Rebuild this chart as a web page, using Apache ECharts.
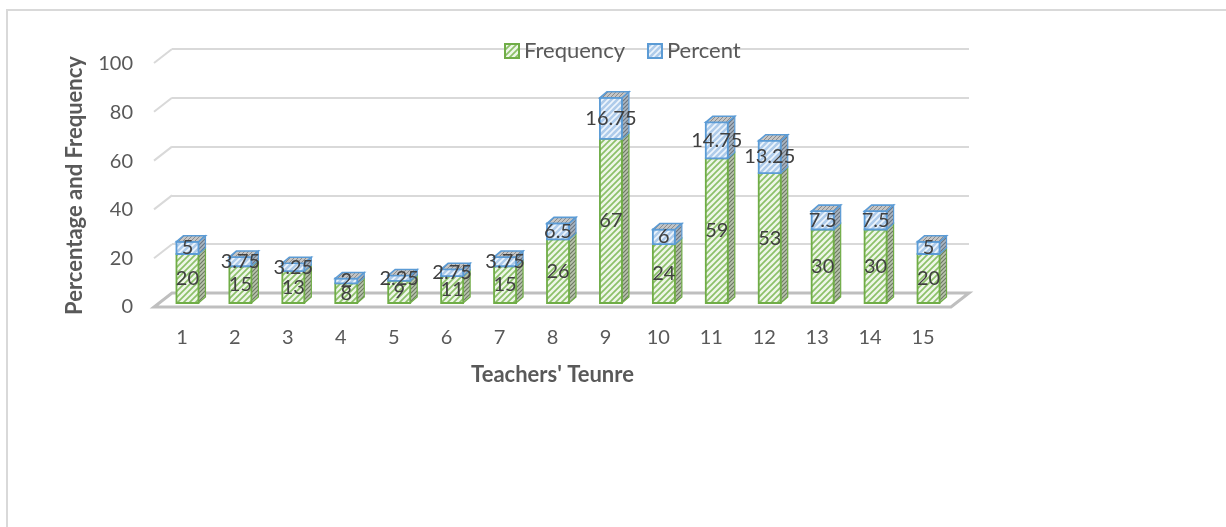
<!DOCTYPE html>
<html><head><meta charset="utf-8">
<script src="https://cdn.jsdelivr.net/npm/echarts@6/dist/echarts.min.js"></script>
<style>html,body{margin:0;padding:0;background:#fff}#chart{width:1226px;height:527px}</style>
</head><body><div id="chart"></div>
<script>
const categories = ['1','2','3','4','5','6','7','8','9','10','11','12','13','14','15'];
const frequency = [20, 15, 13, 8, 9, 11, 15, 26, 67, 24, 59, 53, 30, 30, 20];
const percent = [5, 3.75, 3.25, 2, 2.25, 2.75, 3.75, 6.5, 16.75, 6, 14.75, 13.25, 7.5, 7.5, 5];
const yTicks = [0, 20, 40, 60, 80, 100];

const FONT = 'Lato, "Open Sans", sans-serif';
const TXT = '#595959';

function hatch(bg, fg, lw, step, dash) {
  const c = document.createElement('canvas');
  c.width = step; c.height = step;
  const g = c.getContext('2d');
  g.fillStyle = bg; g.fillRect(0, 0, step, step);
  g.strokeStyle = fg; g.lineWidth = lw;
  if (dash) g.setLineDash(dash);
  g.beginPath();
  g.moveTo(-1, step + 1); g.lineTo(step + 1, -1);
  g.moveTo(-2, 2); g.lineTo(2, -2);
  g.moveTo(step - 2, step + 2); g.lineTo(step + 2, step - 2);
  g.stroke();
  return { image: c, repeat: 'repeat' };
}

const greenFront = hatch('#eef6e8', '#8cc069', 1.7, 6);
const greenSide = hatch('#b9c4ae', '#6e7a64', 1.2, 4);
const blueFront = hatch('#aecbea', '#eef5fc', 1.6, 6);
const blueSide = hatch('#aab6c2', '#6c7682', 1.2, 4);
const topFace = hatch('#c4c4c4', '#8c8c8c', 1, 4);
const GREEN = '#70ad47', BLUE = '#5b9bd5';

const OFFX = 5.5, HW = 11, DX = 7, DY = 6;

function barItem(kind) {
  return function (params, api) {
    const i = api.value(0);
    let base, top;
    if (kind === 'f') { base = 0; top = api.value(1); }
    else { base = api.value(1); top = api.value(1) + api.value(2); }
    const c0 = api.coord([i, base]);
    const c1 = api.coord([i, top]);
    const cx = c0[0] + OFFX;
    const xl = cx - HW, xr = cx + HW;
    const yb = c0[1], yt = c1[1];
    const edge = kind === 'f' ? GREEN : BLUE;
    const children = [
      { type: 'polygon', shape: { points: [[xr, yb], [xr + DX, yb - DY], [xr + DX, yt - DY], [xr, yt]] },
        style: { fill: kind === 'f' ? greenSide : blueSide, stroke: edge, lineWidth: 1.2 } },
      { type: 'rect', shape: { x: xl, y: yt, width: xr - xl, height: yb - yt },
        style: { fill: kind === 'f' ? greenFront : blueFront, stroke: edge, lineWidth: 1.8 } }
    ];
    if (kind === 'p') {
      children.push({ type: 'polygon', shape: { points: [[xl, yt], [xr, yt], [xr + DX, yt - DY], [xl + DX, yt - DY]] },
        style: { fill: topFace, stroke: edge, lineWidth: 1.6 } });
    }
    return { type: 'group', children };
  };
}

function labelItem(params, api) {
  const i = api.value(0), f = api.value(1), p = api.value(2);
  const c0 = api.coord([i, 0]), c1 = api.coord([i, f]), c2 = api.coord([i, f + p]);
  const cx = c0[0] + OFFX;
  const st = { fill: '#404040', fontSize: 20, fontFamily: FONT, align: 'center', verticalAlign: 'middle' };
  return { type: 'group', children: [
    { type: 'text', x: cx, y: (c0[1] + c1[1]) / 2, style: Object.assign({ text: String(f) }, st) },
    { type: 'text', x: cx, y: (c1[1] + c2[1]) / 2, style: Object.assign({ text: String(p) }, st) }
  ] };
}

function wallItem(params, api) {
  const v = api.value(1);
  const cs = params.coordSys;
  const y = api.coord([0, v])[1];
  const x0 = cs.x, w = cs.width;
  if (v === 0) {
    return { type: 'polygon', shape: { points: [[x0, y], [x0 + w, y], [x0 + w - 18, y + 14], [x0 - 18, y + 14]] },
      style: { fill: 'none', stroke: '#bfbfbf', lineWidth: 3 } };
  }
  return { type: 'line', shape: { x1: x0, y1: y, x2: x0 - 18, y2: y + 14 },
    style: { stroke: '#d9d9d9', lineWidth: 2 } };
}

const chart = echarts.init(document.getElementById('chart'), null, { renderer: 'canvas' });
chart.setOption({
  animation: false,
  backgroundColor: '#ffffff',
  graphic: [{ type: 'rect', silent: true, z: -10, shape: { x: 7, y: 10, width: 1400, height: 800 },
    style: { fill: 'none', stroke: '#d9d9d9', lineWidth: 2 } }],
  legend: {
    data: ['Frequency', 'Percent'], left: 499, top: 35, icon: 'rect', itemWidth: 14, itemHeight: 14,
    itemGap: 22, textStyle: { color: TXT, fontSize: 22, fontFamily: FONT }
  },
  grid: [
    { left: 172, right: 257, top: 49, bottom: 234 },
    { left: 155.5, right: 276.5, top: 58, bottom: 224 },
    { left: 155, right: 276, top: 64, bottom: 220 }
  ],
  xAxis: [
    { gridIndex: 0, type: 'value', min: 0, max: 1, show: false },
    { gridIndex: 1, type: 'category', data: categories,
      axisLine: { show: false }, axisTick: { show: false },
      axisLabel: { margin: 25, color: TXT, fontSize: 20, fontFamily: FONT },
      name: "Teachers' Teunre", nameLocation: 'middle', nameGap: 61,
      nameTextStyle: { color: TXT, fontSize: 22, fontWeight: 'bold', fontFamily: FONT } },
    { gridIndex: 2, type: 'value', min: 0, max: 1, show: false }
  ],
  yAxis: [
    { gridIndex: 0, type: 'value', min: 0, max: 100, interval: 20,
      axisLine: { show: false }, axisTick: { show: false }, axisLabel: { show: false },
      splitLine: { lineStyle: { color: '#d9d9d9', width: 2 } } },
    { gridIndex: 1, type: 'value', min: 0, max: 100, interval: 20, show: false },
    { gridIndex: 2, type: 'value', min: 0, max: 100, interval: 20,
      axisLine: { show: false }, axisTick: { show: false }, splitLine: { show: false },
      axisLabel: { margin: 22, color: TXT, fontSize: 20, fontFamily: FONT },
      name: 'Percentage and Frequency', nameLocation: 'middle', nameGap: 69,
      nameTextStyle: { color: TXT, fontSize: 22, fontWeight: 'bold', fontFamily: FONT } }
  ],
  series: [
    { name: 'walls', type: 'custom', xAxisIndex: 0, yAxisIndex: 0, silent: true,
      data: yTicks.map(v => [0, v]), renderItem: wallItem },
    { name: 'Frequency', type: 'custom', xAxisIndex: 1, yAxisIndex: 1,
      itemStyle: { color: greenFront, borderColor: GREEN, borderWidth: 1 },
      data: frequency.map((v, i) => [i, v]), encode: { x: 0, y: 1 }, renderItem: barItem('f') },
    { name: 'Percent', type: 'custom', xAxisIndex: 1, yAxisIndex: 1,
      itemStyle: { color: blueFront, borderColor: BLUE, borderWidth: 1 },
      data: percent.map((v, i) => [i, frequency[i], v]), encode: { x: 0, y: [1, 2] }, renderItem: barItem('p') },
    { name: 'labels', type: 'custom', xAxisIndex: 1, yAxisIndex: 1, silent: true, z: 5,
      data: frequency.map((v, i) => [i, v, percent[i]]), encode: { x: 0, y: 1 }, renderItem: labelItem }
  ]
});
</script></body></html>
